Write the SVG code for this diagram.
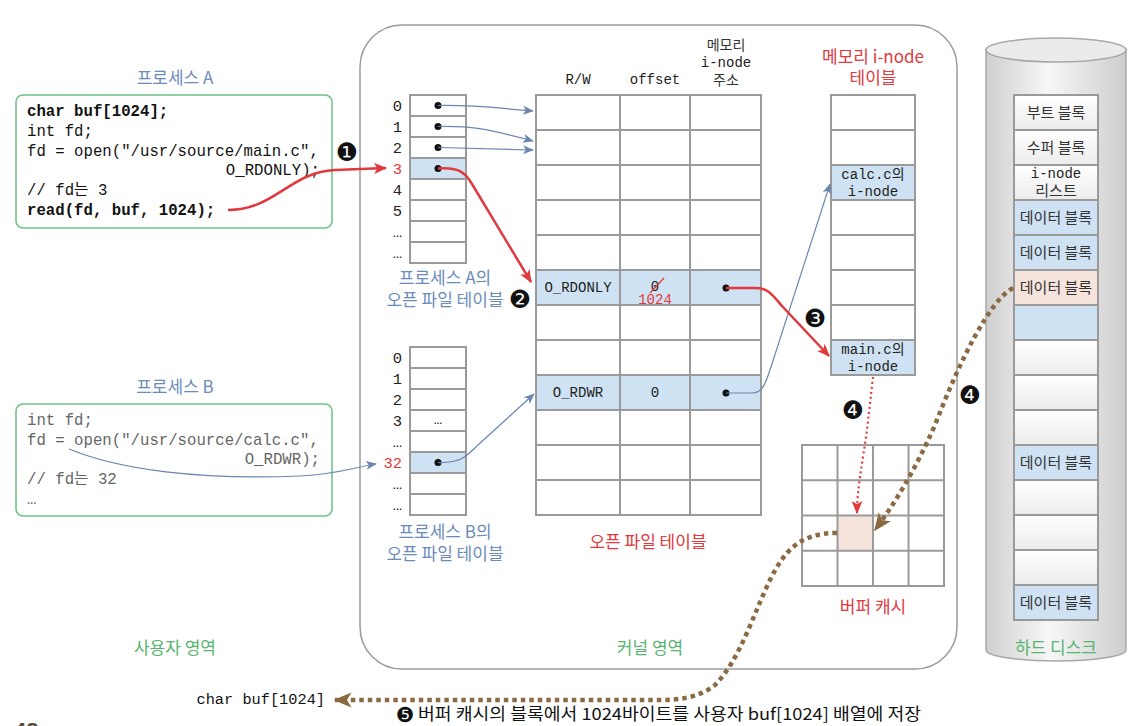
<svg xmlns="http://www.w3.org/2000/svg" width="1146" height="726" viewBox="0 0 1146 726">
<style>
.cell{fill:#fff;stroke:#9a9a9a;stroke-width:2}
.hl{fill:#cfe2f3;stroke:#9a9a9a;stroke-width:2}
.pe{fill:#f6e4dc;stroke:#9a9a9a;stroke-width:2}
.dg{fill:url(#blk);stroke:#9a9a9a;stroke-width:2}
.mono{font-family:"Liberation Mono","Noto Sans CJK KR",monospace}
.kr{font-family:"Noto Sans CJK KR","Noto Sans",sans-serif}
.code{font-family:"Liberation Mono","Noto Sans CJK KR",monospace;font-size:15.7px;fill:#111}
.codeb{font-family:"Liberation Mono","Noto Sans CJK KR",monospace;font-size:15.7px;fill:#666}
.lbl{font-family:"Liberation Mono",monospace;font-size:15.5px;fill:#222;text-anchor:end}
.ttl{font-family:"Noto Sans CJK KR",sans-serif;font-size:17px;fill:#6b8cba;text-anchor:middle}
.red{font-family:"Noto Sans CJK KR",sans-serif;font-size:17px;fill:#e0393e;text-anchor:middle}
.grn{font-family:"Noto Sans CJK KR",sans-serif;font-size:17px;fill:#55b46f;text-anchor:middle}
.blk{font-family:"Noto Sans CJK KR",sans-serif;font-size:15px;fill:#333;text-anchor:middle}
.tc{font-family:"Liberation Mono","Noto Sans CJK KR",monospace;font-size:14px;fill:#222;text-anchor:middle}
.badge{font-family:"DejaVu Sans",sans-serif;font-size:25px;fill:#111;text-anchor:middle}
.dot{fill:#111}
.cb{fill:none;stroke:#6a87b0;stroke-width:1.2}
.cr{fill:none;stroke:#e0393e;stroke-width:2.5}
.crd{fill:none;stroke:#e0393e;stroke-width:2.2;stroke-dasharray:2 3}
.cw{fill:none;stroke:#8b6a43;stroke-width:4.5;stroke-dasharray:4.5 4}
</style>
<defs>
<linearGradient id="cyl" x1="0" y1="0" x2="1" y2="0">
<stop offset="0" stop-color="#cfcfcf"/><stop offset="0.45" stop-color="#f7f7f7"/><stop offset="1" stop-color="#cdcdcd"/>
</linearGradient>
<linearGradient id="blk" x1="0" y1="0" x2="0" y2="1">
<stop offset="0" stop-color="#ffffff"/><stop offset="1" stop-color="#ececec"/>
</linearGradient>
<marker id="ar" viewBox="0 0 12 10" refX="11" refY="5" markerWidth="13" markerHeight="11" markerUnits="userSpaceOnUse" orient="auto"><path d="M0,0 L12,5 L0,10 L3,5 z" fill="#e0393e"/></marker>
<marker id="ab" viewBox="0 0 12 10" refX="11" refY="5" markerWidth="12" markerHeight="9" markerUnits="userSpaceOnUse" orient="auto"><path d="M0,0 L12,5 L0,10 L3,5 z" fill="#6a87b0"/></marker>
<marker id="aw" viewBox="0 0 12 10" refX="11" refY="5" markerWidth="18" markerHeight="16" markerUnits="userSpaceOnUse" orient="auto"><path d="M0,0 L12,5 L0,10 L3,5 z" fill="#8b6a43"/></marker>
</defs>
<rect width="1146" height="726" fill="#fff"/>

<!-- kernel area -->
<g id="kernel">
<rect x="360" y="25" width="597" height="644" rx="42" fill="#fff" stroke="#9a9a9a" stroke-width="1.5"/>
<text class="grn" x="650" y="654">커널 영역</text>
</g>
<text class="grn" x="175" y="654">사용자 영역</text>

<!-- Process A -->
<g id="procA">
<text class="ttl" x="175" y="84">프로세스 A</text>
<rect x="16" y="95" width="316" height="133" rx="7" fill="#fff" stroke="#6cc184" stroke-width="1.5"/>
<text class="code" x="27" y="116" font-weight="bold">char buf[1024];</text>
<text class="code" x="27" y="136">int fd;</text>
<text class="code" x="27" y="156">fd = open("/usr/source/main.c",</text>
<text class="code" x="320" y="175" text-anchor="end">O_RDONLY);</text>
<text class="code" x="27" y="195">// fd는 3</text>
<text class="code" x="27" y="215" font-weight="bold">read(fd, buf, 1024);</text>
</g>

<!-- Process B -->
<g id="procB">
<text class="ttl" x="175" y="393">프로세스 B</text>
<rect x="16" y="404" width="316" height="112" rx="7" fill="#fff" stroke="#6cc184" stroke-width="1.5"/>
<text class="codeb" x="27" y="425">int fd;</text>
<text class="codeb" x="27" y="445">fd = open("/usr/source/calc.c",</text>
<text class="codeb" x="320" y="464" text-anchor="end">O_RDWR);</text>
<text class="codeb" x="27" y="484">// fd는 32</text>
<text class="codeb" x="27" y="504">…</text>
</g>

<!-- fd table A -->
<g id="fdA">
<rect class="cell" x="410" y="95" width="56" height="21"/>
<rect class="cell" x="410" y="116" width="56" height="21"/>
<rect class="cell" x="410" y="137" width="56" height="21"/>
<rect class="hl" x="410" y="158" width="56" height="21"/>
<rect class="cell" x="410" y="179" width="56" height="21"/>
<rect class="cell" x="410" y="200" width="56" height="21"/>
<rect class="cell" x="410" y="221" width="56" height="21"/>
<rect class="cell" x="410" y="242" width="56" height="21"/>
<text class="lbl" x="402" y="111">0</text>
<text class="lbl" x="402" y="132">1</text>
<text class="lbl" x="402" y="153">2</text>
<text class="lbl" x="402" y="174" style="fill:#e0393e">3</text>
<text class="lbl" x="402" y="195">4</text>
<text class="lbl" x="402" y="216">5</text>
<text class="lbl" x="402" y="237">…</text>
<text class="lbl" x="402" y="258">…</text>
<circle class="dot" cx="438" cy="105.5" r="3.5"/>
<circle class="dot" cx="438" cy="126.5" r="3.5"/>
<circle class="dot" cx="438" cy="147.5" r="3.5"/>
<circle class="dot" cx="438" cy="168.5" r="3.5"/>
<text class="ttl" x="445" y="284">프로세스 A의</text>
<text class="ttl" x="445" y="306">오픈 파일 테이블</text>
</g>

<!-- fd table B -->
<g id="fdB">
<rect class="cell" x="410" y="347" width="56" height="21"/>
<rect class="cell" x="410" y="368" width="56" height="21"/>
<rect class="cell" x="410" y="389" width="56" height="21"/>
<rect class="cell" x="410" y="410" width="56" height="21"/>
<rect class="cell" x="410" y="431" width="56" height="21"/>
<rect class="hl" x="410" y="452" width="56" height="21"/>
<rect class="cell" x="410" y="473" width="56" height="21"/>
<rect class="cell" x="410" y="494" width="56" height="21"/>
<text class="lbl" x="402" y="363">0</text>
<text class="lbl" x="402" y="384">1</text>
<text class="lbl" x="402" y="405">2</text>
<text class="lbl" x="402" y="426">3</text>
<text class="lbl" x="402" y="447">…</text>
<text class="lbl" x="402" y="468" style="fill:#e0393e">32</text>
<text class="lbl" x="402" y="489">…</text>
<text class="lbl" x="402" y="510">…</text>
<text class="tc" x="438" y="424">…</text>
<circle class="dot" cx="438" cy="462.5" r="3.5"/>
<text class="ttl" x="445" y="538">프로세스 B의</text>
<text class="ttl" x="445" y="560">오픈 파일 테이블</text>
</g>

<!-- open file table -->
<g id="oft">
<text class="tc" x="578" y="84">R/W</text>
<text class="tc" x="655" y="84">offset</text>
<text class="blk" x="726" y="50" style="font-size:14px">메모리</text>
<text class="tc" x="726" y="67">i-node</text>
<text class="blk" x="726" y="85" style="font-size:14px">주소</text>
<g>
<rect class="cell" x="536" y="95" width="84" height="35"/><rect class="cell" x="620" y="95" width="70" height="35"/><rect class="cell" x="690" y="95" width="71" height="35"/>
<rect class="cell" x="536" y="130" width="84" height="35"/><rect class="cell" x="620" y="130" width="70" height="35"/><rect class="cell" x="690" y="130" width="71" height="35"/>
<rect class="cell" x="536" y="165" width="84" height="35"/><rect class="cell" x="620" y="165" width="70" height="35"/><rect class="cell" x="690" y="165" width="71" height="35"/>
<rect class="cell" x="536" y="200" width="84" height="35"/><rect class="cell" x="620" y="200" width="70" height="35"/><rect class="cell" x="690" y="200" width="71" height="35"/>
<rect class="cell" x="536" y="235" width="84" height="35"/><rect class="cell" x="620" y="235" width="70" height="35"/><rect class="cell" x="690" y="235" width="71" height="35"/>
<rect class="hl" x="536" y="270" width="84" height="35"/><rect class="hl" x="620" y="270" width="70" height="35"/><rect class="hl" x="690" y="270" width="71" height="35"/>
<rect class="cell" x="536" y="305" width="84" height="35"/><rect class="cell" x="620" y="305" width="70" height="35"/><rect class="cell" x="690" y="305" width="71" height="35"/>
<rect class="cell" x="536" y="340" width="84" height="35"/><rect class="cell" x="620" y="340" width="70" height="35"/><rect class="cell" x="690" y="340" width="71" height="35"/>
<rect class="hl" x="536" y="375" width="84" height="35"/><rect class="hl" x="620" y="375" width="70" height="35"/><rect class="hl" x="690" y="375" width="71" height="35"/>
<rect class="cell" x="536" y="410" width="84" height="35"/><rect class="cell" x="620" y="410" width="70" height="35"/><rect class="cell" x="690" y="410" width="71" height="35"/>
<rect class="cell" x="536" y="445" width="84" height="35"/><rect class="cell" x="620" y="445" width="70" height="35"/><rect class="cell" x="690" y="445" width="71" height="35"/>
<rect class="cell" x="536" y="480" width="84" height="35"/><rect class="cell" x="620" y="480" width="70" height="35"/><rect class="cell" x="690" y="480" width="71" height="35"/>
</g>
<text class="tc" x="578" y="292">O_RDONLY</text>
<text class="tc" x="655" y="291">0</text>
<line x1="650" y1="293" x2="664" y2="278" stroke="#e0393e" stroke-width="1.3"/>
<text class="tc" x="655" y="304" style="fill:#e0393e">1024</text>
<circle class="dot" cx="726" cy="288" r="3.5"/>
<text class="tc" x="578" y="397">O_RDWR</text>
<text class="tc" x="655" y="397">0</text>
<circle class="dot" cx="726" cy="393" r="3.5"/>
<text class="red" x="648" y="548">오픈 파일 테이블</text>
</g>

<!-- memory inode table -->
<g id="inode">
<text class="red" x="873" y="63">메모리 i-node</text>
<text class="red" x="873" y="84">테이블</text>
<rect class="cell" x="831" y="95" width="84" height="35"/>
<rect class="cell" x="831" y="130" width="84" height="35"/>
<rect class="hl" x="831" y="165" width="84" height="35"/>
<rect class="cell" x="831" y="200" width="84" height="35"/>
<rect class="cell" x="831" y="235" width="84" height="35"/>
<rect class="cell" x="831" y="270" width="84" height="35"/>
<rect class="cell" x="831" y="305" width="84" height="35"/>
<rect class="hl" x="831" y="340" width="84" height="35"/>
<text class="tc" x="873" y="179">calc.c의</text>
<text class="tc" x="873" y="196">i-node</text>
<text class="tc" x="873" y="354">main.c의</text>
<text class="tc" x="873" y="371">i-node</text>
</g>

<!-- buffer cache -->
<g id="cache">
<rect x="802" y="445" width="142" height="141" fill="#fff" stroke="#9a9a9a" stroke-width="2"/>
<rect x="837.5" y="515.5" width="35.5" height="35.25" fill="#f6e4dc"/>
<path d="M837.5,445V586M873,445V586M908.5,445V586M802,480.25H944M802,515.5H944M802,550.75H944" stroke="#9a9a9a" stroke-width="2" fill="none"/>
<text class="red" x="873" y="613">버퍼 캐시</text>
</g>

<!-- hard disk -->
<g id="disk">
<path d="M986,50 L986,650 A70,11 0 0 0 1126,650 L1126,50 Z" fill="url(#cyl)" stroke="#a8a8a8" stroke-width="1.5"/>
<ellipse cx="1056" cy="50" rx="70" ry="12" fill="#ebebeb" stroke="#a8a8a8" stroke-width="1.5"/>
<rect class="dg" x="1014" y="95" width="84" height="35"/>
<rect class="dg" x="1014" y="130" width="84" height="35"/>
<rect class="dg" x="1014" y="165" width="84" height="35"/>
<rect class="hl" x="1014" y="200" width="84" height="35"/>
<rect class="hl" x="1014" y="235" width="84" height="35"/>
<rect class="pe" x="1014" y="270" width="84" height="35"/>
<rect class="hl" x="1014" y="305" width="84" height="35"/>
<rect class="dg" x="1014" y="340" width="84" height="35"/>
<rect class="dg" x="1014" y="375" width="84" height="35"/>
<rect class="dg" x="1014" y="410" width="84" height="35"/>
<rect class="hl" x="1014" y="445" width="84" height="35"/>
<rect class="dg" x="1014" y="480" width="84" height="35"/>
<rect class="dg" x="1014" y="515" width="84" height="35"/>
<rect class="dg" x="1014" y="550" width="84" height="35"/>
<rect class="hl" x="1014" y="585" width="84" height="35"/>
<text class="blk" x="1056" y="118">부트 블록</text>
<text class="blk" x="1056" y="153">수퍼 블록</text>
<text class="tc" x="1056" y="178">i-node</text>
<text class="blk" x="1056" y="196">리스트</text>
<text class="blk" x="1056" y="223">데이터 블록</text>
<text class="blk" x="1056" y="258">데이터 블록</text>
<text class="blk" x="1056" y="293">데이터 블록</text>
<text class="blk" x="1056" y="468">데이터 블록</text>
<text class="blk" x="1056" y="608">데이터 블록</text>
<text class="grn" x="1056" y="654">하드 디스크</text>
</g>

<!-- connectors -->
<g id="connectors">
<path class="cr" d="M228,210 C275,210 290,172 335,170 L386,168" marker-end="url(#ar)"/>
<path class="cr" d="M438,168.5 C458,167 465,172 472,184 L531,282" marker-end="url(#ar)"/>
<path class="cb" d="M438,105.5 C480,105 495,108 533,111" marker-end="url(#ab)"/>
<path class="cb" d="M438,126.5 C470,126 485,128 533,141" marker-end="url(#ab)"/>
<path class="cb" d="M438,147.5 L533,150" marker-end="url(#ab)"/>
<path class="cb" d="M69,449 C120,470 200,480 300,476 C340,474 355,467 376,464" marker-end="url(#ab)"/>
<path class="cb" d="M438,462.5 C460,463 465,458 478,445 L534,394" marker-end="url(#ab)"/>
<path class="cb" d="M726,393 L752,393 C762,393 765,385 770,370 L830,184" marker-end="url(#ab)"/>
<path class="cr" d="M726,288 L755,288 C768,288 772,294 782,306 L829,356" marker-end="url(#ar)"/>
<path class="crd" d="M873,377 L867,430 C862,465 857,490 857,513" marker-end="url(#ar)"/>
<path class="cw" d="M1013,288 C990,300 960,360 935,425 C915,470 897,500 875,530" marker-end="url(#aw)"/>
<path class="cw" d="M837,533 C800,533 785,550 770,580 C755,610 740,660 715,685 C700,697 680,700 660,700 L335,700" marker-end="url(#aw)"/>
</g>

<text class="badge" x="347" y="161">❶</text>
<text class="badge" x="520" y="308">❷</text>
<text class="badge" x="815" y="327">❸</text>
<text class="badge" x="853" y="419">❹</text>
<text class="badge" x="970" y="404">❹</text>

<text class="code" x="325" y="704" text-anchor="end" style="font-size:15.3px">char buf[1024]</text>
<text class="badge" x="405" y="722" style="font-size:21px">❺</text>
<text class="kr" x="418" y="720" font-size="16.5" fill="#111" textLength="503" lengthAdjust="spacingAndGlyphs">버퍼 캐시의 블록에서 1024바이트를 사용자 buf[1024] 배열에 저장</text>
<text x="14" y="738" font-family="Liberation Sans, sans-serif" font-size="22" font-weight="bold" fill="#5a4a3c">48</text>
</svg>
